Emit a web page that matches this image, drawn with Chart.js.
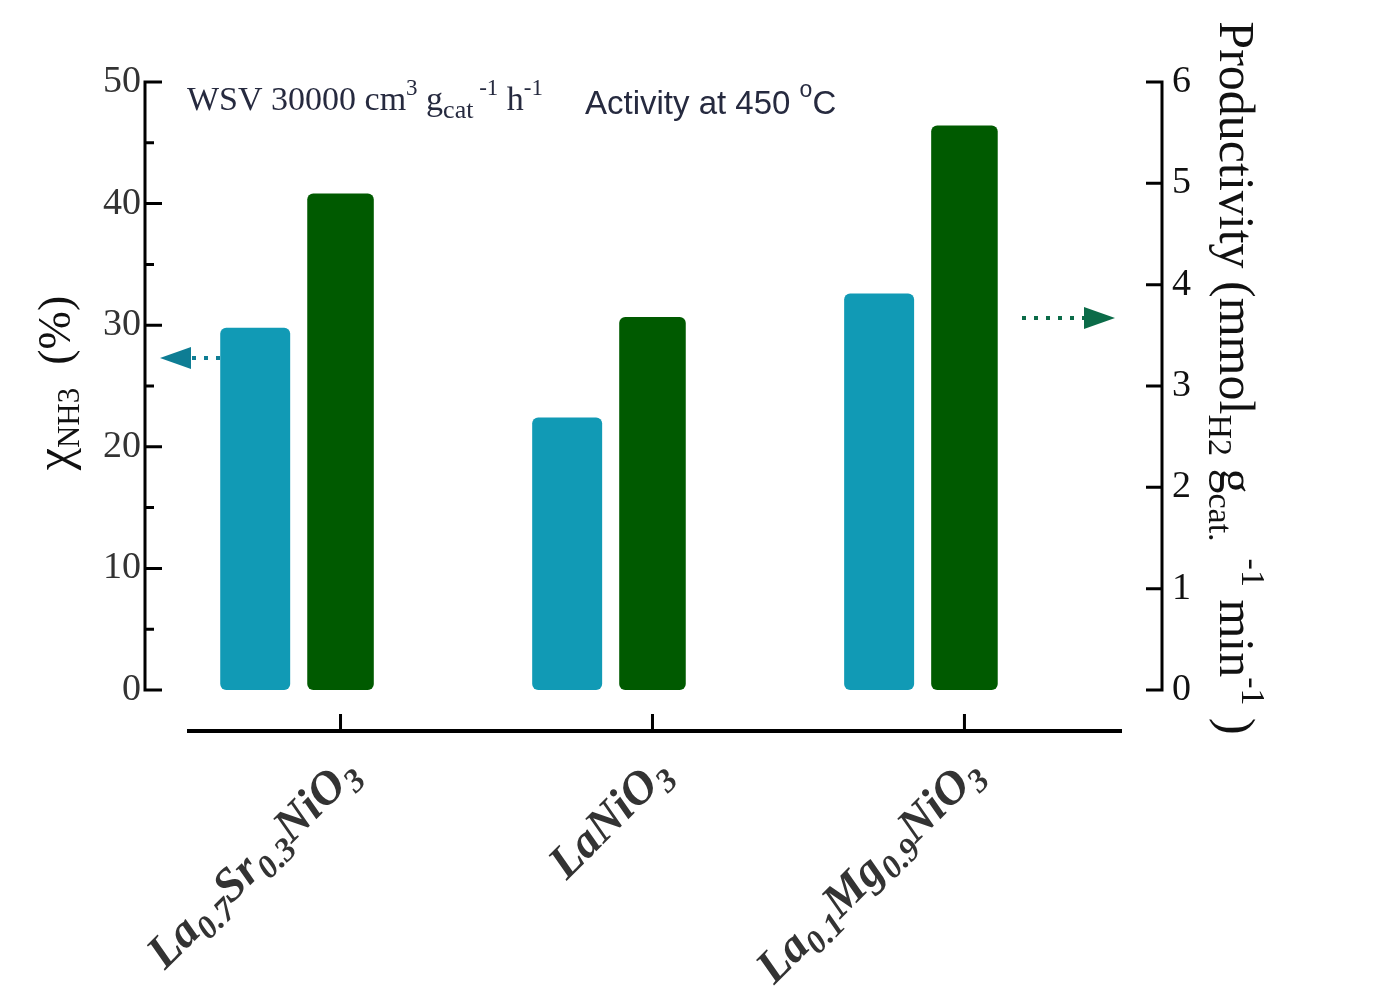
<!DOCTYPE html>
<html>
<head>
<meta charset="utf-8">
<script src="https://cdn.jsdelivr.net/npm/chart.js@4/dist/chart.umd.min.js"></script>
<style>body{margin:0;background:#fff}</style>
</head>
<body>
<canvas id="actChart" width="1378" height="998"></canvas>
<script>
let catalysts = ['La0.7Sr0.3NiO3', 'LaNiO3', 'La0.1Mg0.9NiO3'];
let conversion = [29.8, 22.4, 32.6];    // NH3 conversion, %
let productivity = [4.90, 3.68, 5.57];  // mmol H2 / g cat / min
let leftTicks = [0, 10, 20, 30, 40, 50];
let leftMinor = [5, 15, 25, 35, 45];
let rightTicks = [0, 1, 2, 3, 4, 5, 6];
let leftArrowAt = 27.3;
let rightArrowAt = 3.67;

const serif = '"Liberation Serif", "Times New Roman", serif';
const sans = '"Liberation Sans", Arial, sans-serif';

function fontOf(p) {
    return (p.italic ? 'italic ' : '') + (p.bold ? 'bold ' : '') + p.size + 'px ' + (p.family || serif);
}

// draws a run of text pieces (sub/superscripts via dy) on one baseline
function drawRich(ctx, parts, x, y, align) {
    let w = 0;
    parts.forEach((p) => {
        ctx.font = fontOf(p);
        p.w = ctx.measureText(p.t).width;
        w += p.w;
    });
    let cx = align === 'right' ? x - w : (align === 'center' ? x - w / 2 : x);
    ctx.textAlign = 'left';
    ctx.textBaseline = 'alphabetic';
    parts.forEach((p) => {
        ctx.font = fontOf(p);
        ctx.fillText(p.t, cx, y + (p.dy || 0));
        cx += p.w;
    });
}

// chemical formula -> pieces, numbers become subscripts
function formulaParts(name) {
    return name.split(/(\d+(?:\.\d+)?)/).filter((s) => s.length).map((s) => {
        let isNum = /^\d/.test(s);
        return { t: s, size: isNum ? 33 : 47, bold: true, italic: true, dy: isNum ? 10 : 0 };
    });
}

function arrow(ctx, color, y, x0, x1, tipX, baseX) {
    ctx.save();
    ctx.strokeStyle = color;
    ctx.fillStyle = color;
    ctx.lineWidth = 4;
    ctx.setLineDash([4, 8]);
    ctx.beginPath();
    ctx.moveTo(x0, y);
    ctx.lineTo(x1, y);
    ctx.stroke();
    ctx.beginPath();
    ctx.moveTo(tipX, y);
    ctx.lineTo(baseX, y - 11);
    ctx.lineTo(baseX, y + 11);
    ctx.closePath();
    ctx.fill();
    ctx.restore();
}

const axesPlugin = {
    id: 'axesPlugin',
    afterDraw(chart) {
        const ctx = chart.ctx;
        const area = chart.chartArea;
        const yL = chart.scales.y;
        const yR = chart.scales.y1;
        ctx.save();
        ctx.strokeStyle = '#000';
        ctx.lineWidth = 3;
        ctx.lineCap = 'butt';

        // left axis
        ctx.beginPath();
        ctx.moveTo(area.left, yL.getPixelForValue(50) - 1.5);
        ctx.lineTo(area.left, yL.getPixelForValue(0) + 1.5);
        leftTicks.forEach((v) => {
            let py = yL.getPixelForValue(v);
            ctx.moveTo(area.left, py);
            ctx.lineTo(area.left + 17, py);
        });
        leftMinor.forEach((v) => {
            let py = yL.getPixelForValue(v);
            ctx.moveTo(area.left, py);
            ctx.lineTo(area.left + 9, py);
        });
        // right axis
        ctx.moveTo(area.right, yR.getPixelForValue(6) - 1.5);
        ctx.lineTo(area.right, yR.getPixelForValue(0) + 1.5);
        rightTicks.forEach((v) => {
            let py = yR.getPixelForValue(v);
            ctx.moveTo(area.right, py);
            ctx.lineTo(area.right - 16, py);
        });
        ctx.stroke();

        // tick labels
        ctx.fillStyle = '#333';
        ctx.font = '38px ' + serif;
        ctx.textAlign = 'right';
        ctx.textBaseline = 'middle';
        leftTicks.forEach((v) => ctx.fillText(String(v), area.left - 4, yL.getPixelForValue(v)));
        ctx.fillStyle = '#111';
        ctx.textAlign = 'left';
        rightTicks.forEach((v) => ctx.fillText(String(v), area.right + 10, yR.getPixelForValue(v)));

        // category axis, ticks under the productivity bars
        const axisY = area.bottom + 41;
        const greens = chart.getDatasetMeta(1).data;
        ctx.lineWidth = 4;
        ctx.beginPath();
        ctx.moveTo(area.left + 42, axisY);
        ctx.lineTo(area.right - 40, axisY);
        ctx.stroke();
        ctx.lineWidth = 3;
        ctx.beginPath();
        greens.forEach((bar) => {
            ctx.moveTo(bar.x, axisY);
            ctx.lineTo(bar.x, axisY - 17);
        });
        ctx.stroke();

        ctx.fillStyle = '#333';
        greens.forEach((bar, i) => {
            ctx.save();
            ctx.translate(bar.x + 20, axisY + 44);
            ctx.rotate(-Math.PI / 4);
            drawRich(ctx, formulaParts(catalysts[i]), 0, 0, 'right');
            ctx.restore();
        });

        // axis titles
        ctx.fillStyle = '#111';
        ctx.save();
        ctx.translate(70, yL.getPixelForValue(25) - 3);
        ctx.rotate(-Math.PI / 2);
        drawRich(ctx, [
            { t: '\u03c7', size: 50 },
            { t: 'NH3', size: 31, dy: 9 },
            { t: '  (%)', size: 46 }
        ], 0, 0, 'center');
        ctx.restore();

        ctx.save();
        ctx.translate(1220, 378);
        ctx.rotate(Math.PI / 2);
        drawRich(ctx, [
            { t: 'Productivity (mmol', size: 50 },
            { t: 'H2', size: 34, dy: 11 },
            { t: ' g', size: 50 },
            { t: 'cat.', size: 34, dy: 11 },
            { t: '  -1', size: 34, dy: -22 },
            { t: ' min', size: 50 },
            { t: '-1', size: 34, dy: -22 },
            { t: ' )', size: 50 }
        ], 0, 0, 'center');
        ctx.restore();

        // header notes
        ctx.fillStyle = '#262a3f';
        drawRich(ctx, [
            { t: 'WSV 30000 cm', size: 34 },
            { t: '3', size: 23, dy: -15 },
            { t: ' g', size: 34 },
            { t: 'cat', size: 26, dy: 8 },
            { t: ' -1', size: 23, dy: -15 },
            { t: ' h', size: 34 },
            { t: '-1', size: 23, dy: -15 }
        ], area.left + 42, area.top + 28, 'left');
        drawRich(ctx, [
            { t: 'Activity at 450 ', size: 33, family: sans },
            { t: 'o', size: 23, family: sans, dy: -17 },
            { t: 'C', size: 33, family: sans }
        ], area.left + 440, area.top + 32, 'left');

        // arrows pointing each series to its axis
        let ly = yL.getPixelForValue(leftArrowAt);
        arrow(ctx, '#0e7d94', ly, area.left + 75, area.left + 47, area.left + 15, area.left + 46);
        let ry = yR.getPixelForValue(rightArrowAt);
        arrow(ctx, '#0b6b48', ry, area.right - 140, area.right - 77, area.right - 47, area.right - 78);

        ctx.restore();
    }
};

const ctx = document.getElementById('actChart').getContext('2d');
new Chart(ctx, {
    type: 'bar',
    data: {
        datasets: [{
            label: 'NH3 conversion',
            data: conversion.map((v, i) => ({ x: i, y: v })),
            yAxisID: 'y',
            backgroundColor: '#119ab5',
            barPercentage: 0.82
        }, {
            label: 'Productivity',
            data: productivity.map((v, i) => ({ x: i, y: v })),
            yAxisID: 'y1',
            backgroundColor: '#005a00',
            barPercentage: 0.78
        }]
    },
    options: {
        responsive: false,
        animation: false,
        categoryPercentage: 0.547,
        borderRadius: 6,
        borderSkipped: false,
        layout: { padding: { left: 145, right: 216, top: 82, bottom: 308 } },
        plugins: { legend: { display: false }, tooltip: { enabled: false } },
        scales: {
            x: {
                type: 'linear', min: -0.49, max: 2.77, offset: false, display: false,
                grid: { offset: false }, ticks: { stepSize: 1, includeBounds: false }
            },
            y: { min: 0, max: 50, display: false },
            y1: { min: 0, max: 6, display: false, position: 'right' }
        }
    },
    plugins: [axesPlugin]
});
</script>
</body>
</html>
